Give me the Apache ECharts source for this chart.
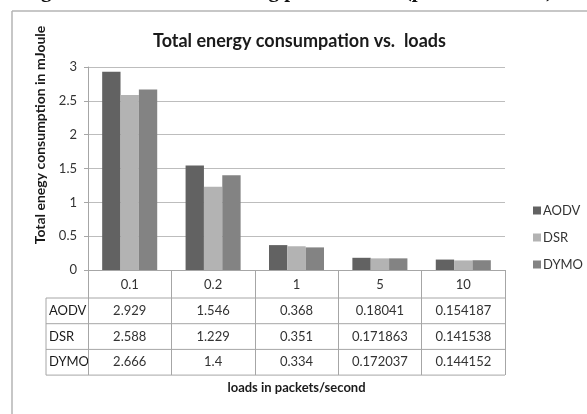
<!DOCTYPE html>
<html>
<head>
<meta charset="utf-8">
<script src="https://cdn.jsdelivr.net/npm/echarts@6/dist/echarts.min.js"></script>
<style>
  html, body { margin: 0; padding: 0; background: #fff; }
  #chart { width: 587px; height: 414px; }
</style>
</head>
<body>
<div id="chart"></div>
<script>
var categories = ['0.1', '0.2', '1', '5', '10'];
var seriesNames = ['AODV', 'DSR', 'DYMO'];
var aodv = [2.929, 1.546, 0.368, 0.18041, 0.154187];
var dsr = [2.588, 1.229, 0.351, 0.171863, 0.141538];
var dymo = [2.666, 1.4, 0.334, 0.172037, 0.144152];
var colors = ['#626262', '#b3b3b3', '#838383'];

var font = 'Lato';
var gray = '#a6a6a6';

var chart = echarts.init(document.getElementById('chart'));

var option = {
    animation: false,
    color: colors,
    title: {
        text: 'Total energy consumpation vs.  loads',
        left: 148,
        top: 27,
        textStyle: { fontFamily: font, fontSize: 18, fontWeight: 'bold', color: '#1a1a1a' }
    },
    legend: {
        orient: 'vertical',
        left: 528,
        top: 199,
        itemWidth: 8,
        itemHeight: 8,
        itemGap: 14,
        icon: 'rect',
        data: seriesNames,
        textStyle: { fontFamily: font, fontSize: 13, color: '#333', padding: [0, 0, 0, -3] }
    },
    grid: { left: 88, right: 82, top: 67, bottom: 144 },
    xAxis: {
        type: 'category',
        data: categories,
        boundaryGap: true,
        axisLine: { lineStyle: { color: gray, width: 1 } },
        axisTick: { show: true, length: 105, alignWithLabel: false, lineStyle: { color: gray } },
        axisLabel: { margin: 8, fontFamily: font, fontSize: 13, color: '#333' },
        name: 'loads in packets/second',
        nameLocation: 'middle',
        nameGap: 111,
        nameTextStyle: { fontFamily: font, fontSize: 13, fontWeight: 'bold', color: '#1a1a1a' }
    },
    yAxis: {
        type: 'value',
        min: 0,
        max: 3,
        interval: 0.5,
        axisLine: { show: true, lineStyle: { color: gray } },
        axisTick: { show: true, length: 4, lineStyle: { color: gray } },
        axisLabel: { margin: 11, fontFamily: font, fontSize: 13, color: '#333' },
        splitLine: { lineStyle: { color: '#bdbdbd', width: 1 } }
    },
    series: [
        { name: seriesNames[0], type: 'bar', data: aodv, barGap: '0%', barCategoryGap: '34%' },
        { name: seriesNames[1], type: 'bar', data: dsr, barGap: '0%', barCategoryGap: '34%' },
        { name: seriesNames[2], type: 'bar', data: dymo, barGap: '0%', barCategoryGap: '34%' }
    ]
};

chart.setOption(option);

// data table under the axis, placed with the chart's own scales
var rows = [aodv, dsr, dymo];
var y0 = chart.convertToPixel({ yAxisIndex: 0 }, 0);
var xs = categories.map(function (c, i) { return chart.convertToPixel({ xAxisIndex: 0 }, i); });
var catW = xs[1] - xs[0];
var tableRight = xs[xs.length - 1] + catW / 2;
var tableLeft = 46;
var headH = 28, rowH = 25.7;
var tableTop = y0 + headH;
var g = [];

function hline(y) {
    g.push({ type: 'line', shape: { x1: tableLeft, y1: y, x2: tableRight, y2: y }, style: { stroke: gray, lineWidth: 1 } });
}

hline(tableTop);
g.push({ type: 'line', shape: { x1: tableLeft, y1: tableTop, x2: tableLeft, y2: tableTop + rowH * 3 }, style: { stroke: gray, lineWidth: 1 } });
rows.forEach(function (vals, r) {
    var yc = tableTop + rowH * r + rowH / 2;
    hline(tableTop + rowH * (r + 1));
    g.push({ type: 'text', x: tableLeft + 3, y: yc, style: { text: seriesNames[r], fontFamily: font, fontSize: 13, fill: '#1a1a1a', align: 'left', verticalAlign: 'middle' } });
    vals.forEach(function (v, i) {
        g.push({ type: 'text', x: xs[i], y: yc, style: { text: String(v), fontFamily: font, fontSize: 13, fill: '#333', align: 'center', verticalAlign: 'middle' } });
    });
});

// y axis title
g.push({ type: 'text', x: 40, y: 135, rotation: Math.PI / 2, style: { text: 'Total enegy consumption in mJoule', fontFamily: font, fontSize: 14, fontWeight: 'bold', fill: '#1a1a1a', align: 'center', verticalAlign: 'middle' } });

// outer frame
g.push({ type: 'line', shape: { x1: 12, y1: 11, x2: 587, y2: 11 }, style: { stroke: '#b5b5b5', lineWidth: 1.5 } });
g.push({ type: 'line', shape: { x1: 12, y1: 11, x2: 12, y2: 414 }, style: { stroke: '#b5b5b5', lineWidth: 1.5 } });

// caption of the page above, mostly cut off
g.push({ type: 'text', x: 553, y: -19, style: { text: 'Fig. 10: Total Loads Routing performance (packets/second)', fontFamily: 'Liberation Serif', fontSize: 21, fontWeight: 'bold', fill: '#111', align: 'right', verticalAlign: 'top' } });

chart.setOption({ graphic: g });
</script>
</body>
</html>
